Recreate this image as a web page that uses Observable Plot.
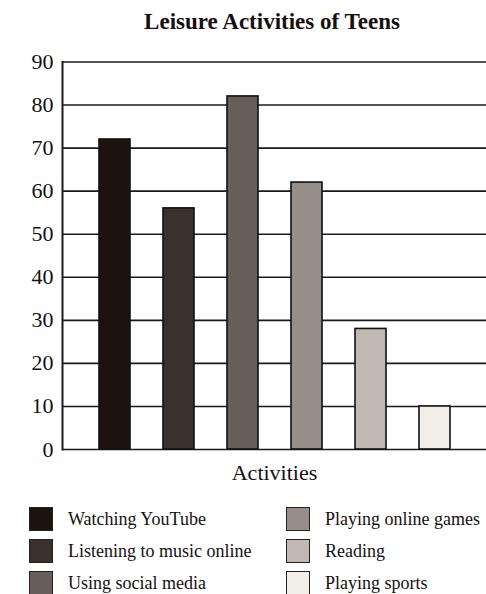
<!DOCTYPE html>
<html>
<head>
<meta charset="utf-8">
<script src="https://cdn.jsdelivr.net/npm/d3@7"></script>
<script src="https://cdn.jsdelivr.net/npm/@observablehq/plot@0.6"></script>
<style>
  html, body { margin: 0; padding: 0; background: #ffffff; }
  body { width: 486px; height: 594px; overflow: hidden; font-family: "Liberation Serif", "DejaVu Serif", serif; color: #151010; }
  #title { height: 40px; box-sizing: border-box; padding-top: 10px; padding-left: 58px; text-align: center; font-weight: bold; font-size: 23px; line-height: 1; }
  #chart svg { display: block; }
  #legend { display: grid; grid-template-columns: 257px 229px; row-gap: 8px; padding-top: 17px; }
  .item { display: flex; align-items: center; height: 24px; font-size: 18px; }
  .sw { width: 22px; height: 22px; border: 1px solid #222; margin-right: 15px; flex: none; }
  .item.left { padding-left: 29px; }
  .item.right { padding-left: 29px; }
</style>
</head>
<body>
<div id="title">Leisure Activities of Teens</div>
<div id="chart"></div>
<div id="legend"></div>
<script>
const activities = ["Watching YouTube", "Listening to music online", "Using social media", "Playing online games", "Reading", "Playing sports"];
const values = [72, 56, 82, 62, 28, 10];
const yTicks = [0, 10, 20, 30, 40, 50, 60, 70, 80, 90];
const xLabel = "Activities";
const colors = ["#1e1210", "#3a302d", "#675e5a", "#958e89", "#bfb9b2", "#f1eee9"];

const data = activities.map((a, i) => ({activity: a, value: values[i]}));

const chart = Plot.plot({
  width: 486,
  height: 450,
  marginLeft: 62,
  marginRight: 0,
  marginTop: 21.5,
  marginBottom: 41,
  style: {fontFamily: "'Liberation Serif', serif", background: "transparent", color: "#151010"},
  x: {domain: activities, paddingInner: 0.516, paddingOuter: 0.57, axis: null},
  y: {domain: [0, 90], ticks: yTicks, tickSize: 0, tickPadding: 9, label: null},
  color: {domain: activities, range: colors},
  marks: [
    Plot.ruleY(yTicks, {stroke: "#1a1a1a", strokeWidth: 1.6}),
    Plot.axisY({ticks: yTicks, tickSize: 0, tickPadding: 9, fontSize: 22, label: null}),
    Plot.frame({anchor: "left", stroke: "#1a1a1a", strokeWidth: 2}),
    Plot.barY(data, {x: "activity", y: "value", fill: "activity", stroke: "#111", strokeWidth: 1.6}),
    Plot.text([xLabel], {frameAnchor: "bottom", lineAnchor: "bottom", dy: 30, fontSize: 22, fill: "#151010"})
  ]
});
document.getElementById("chart").appendChild(chart);

// Legend: left column first three, right column last three
const legend = document.getElementById("legend");
const order = [0, 3, 1, 4, 2, 5];
order.forEach((i, k) => {
  const item = document.createElement("div");
  item.className = "item " + (k % 2 === 0 ? "left" : "right");
  const sw = document.createElement("span");
  sw.className = "sw";
  sw.style.background = colors[i];
  const t = document.createElement("span");
  t.textContent = activities[i];
  item.appendChild(sw);
  item.appendChild(t);
  legend.appendChild(item);
});
</script>
</body>
</html>
